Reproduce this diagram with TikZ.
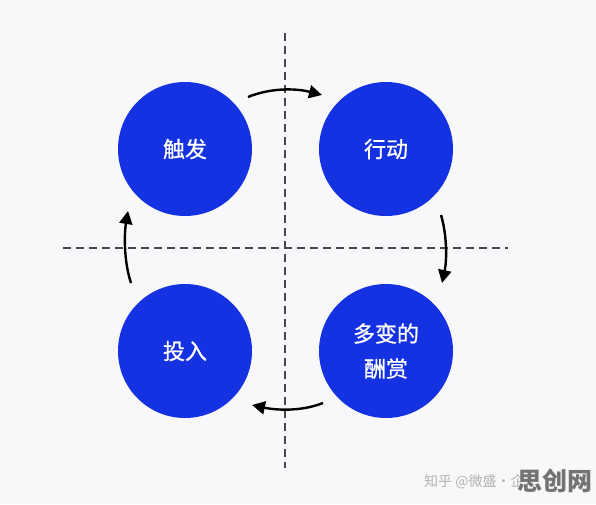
\documentclass[tikz,border=0pt]{standalone}
\usepackage{fontspec}
\newfontfamily\cjk{Noto Sans CJK SC}
\newfontfamily\cjkm{Noto Sans CJK SC}[FakeBold=0.9]
\usetikzlibrary{arrows.meta}
\definecolor{bg}{RGB}{248,248,250}
\definecolor{cblue}{RGB}{20,50,226}
\definecolor{dashc}{RGB}{70,70,75}
\tikzset{
  stage/.style={circle,fill=cblue,minimum size=134pt,inner sep=0pt,text=white,font=\cjkm\fontsize{22}{35}\selectfont,align=center},
  axis/.style={dashc,line width=1.6pt,dash pattern=on 8pt off 5pt},
  flow/.style={black,line width=2.4pt,-{Triangle[length=13pt,width=13pt]}}
}
\begin{document}
\begin{tikzpicture}[x=1pt,y=-1pt]
\fill[bg] (0,0) rectangle (596,504);
\useasboundingbox (0,0) rectangle (596,504);
\coordinate (vt) at (285,33);
\coordinate (vb) at (285,468);
\coordinate (hl) at (63,248);
\coordinate (hr) at (508,248);
\draw[axis] (vt) -- (vb);
\draw[axis] (hl) -- (hr);
\node[stage] (trig) at (185,149) {触发};
\node[stage] (act) at (386,149) {行动};
\node[stage] (inv) at (185,351) {投入};
\node[stage] (rew) at (386,351) {多变的\\酬赏};
\coordinate (a1) at (248,97);
\coordinate (b1) at (322,95);
\coordinate (a2) at (441,215);
\coordinate (b2) at (442,283);
\coordinate (a3) at (323,403);
\coordinate (b3) at (252,405);
\coordinate (a4) at (131,283);
\coordinate (b4) at (128,211);
\draw[flow] (a1) .. controls (270,88) and (295,88) .. (b1);
\draw[flow] (a2) .. controls (447,235) and (447,260) .. (b2);
\draw[flow] (a3) .. controls (300,412) and (275,410) .. (b3);
\draw[flow] (a4) .. controls (124,262) and (124,235) .. (b4);
\node[text=black!30,font=\cjk\fontsize{14}{16}\selectfont,anchor=west,inner sep=0pt] (wm) at (424,482) {知乎 @微盛·企};
\node[text=black!55,font=\cjk\bfseries\fontsize{25}{27}\selectfont,anchor=east,inner sep=0pt] (logo) at (593,481) {思创网};
\end{tikzpicture}
\end{document}
